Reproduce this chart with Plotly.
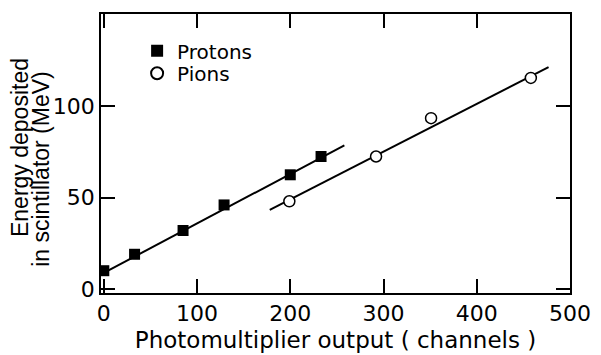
import plotly.graph_objects as go

# Protons (filled squares)
proton_x = [0, 33, 85, 129, 200, 233]
proton_y = [10, 19, 32, 46, 62.5, 72.5]
# Pions (open circles)
pion_x = [199, 292, 351, 458]
pion_y = [48, 72.5, 93.5, 115.5]
# Fitted straight lines (end points)
proton_fit_x = [0, 258]
proton_fit_y = [8.8, 78.6]
pion_fit_x = [178, 477]
pion_fit_y = [43.3, 121.4]

x_ticks = [0, 100, 200, 300, 400, 500]
y_ticks = [0, 50, 100]

FONT = "DejaVu Sans"
YFONT = "Liberation Sans"

fig = go.Figure()
fig.add_trace(go.Scatter(x=proton_fit_x, y=proton_fit_y, mode="lines",
                         line=dict(color="black", width=2), showlegend=False, hoverinfo="skip"))
fig.add_trace(go.Scatter(x=pion_fit_x, y=pion_fit_y, mode="lines",
                         line=dict(color="black", width=2), showlegend=False, hoverinfo="skip"))
fig.add_trace(go.Scatter(x=proton_x, y=proton_y, mode="markers", name="Protons",
                         marker=dict(symbol="square", size=11, color="black"),
                         legend="legend"))
fig.add_trace(go.Scatter(x=pion_x, y=pion_y, mode="markers", name="Pions",
                         marker=dict(symbol="circle", size=11, color="white",
                                     line=dict(color="black", width=1.5)),
                         legend="legend2"))

axis_common = dict(showgrid=False, zeroline=False, showline=True, linecolor="black",
                   linewidth=1.5, mirror="ticks", ticks="inside", ticklen=14,
                   tickwidth=1.5, tickcolor="black",
                   tickfont=dict(family=FONT, size=22, color="black"))

fig.update_xaxes(range=[-3, 500], tickvals=x_ticks, ticktext=[str(v) for v in x_ticks],
                 title=dict(text="Photomultiplier output ( channels )",
                            font=dict(family=FONT, size=23, color="black"), standoff=7),
                 **axis_common)
fig.update_yaxes(range=[-2.2, 150.5], tickvals=y_ticks, ticktext=[str(v) for v in y_ticks],
                 **axis_common)

fig.add_annotation(text="Energy deposited", textangle=-90, xref="paper", yref="paper",
                   x=-0.174, y=0.521, xanchor="center", yanchor="middle", showarrow=False,
                   font=dict(family=YFONT, size=23, color="black"))
fig.add_annotation(text="in scintillator (MeV)", textangle=-90, xref="paper", yref="paper",
                   x=-0.128, y=0.445, xanchor="center", yanchor="middle", showarrow=False,
                   font=dict(family=YFONT, size=23, color="black"))

legend_common = dict(xanchor="left", yanchor="top", bgcolor="rgba(0,0,0,0)",
                     font=dict(family=FONT, size=20, color="black"), itemsizing="constant")

fig.update_layout(
    width=593, height=347,
    margin=dict(l=93, r=31, t=4, b=62),
    paper_bgcolor="white", plot_bgcolor="white",
    legend=dict(x=0.077, y=0.938, **legend_common),
    legend2=dict(x=0.077, y=0.8576, **legend_common),
    font=dict(family=FONT, color="black"),
)

fig.write_html("out.html")
